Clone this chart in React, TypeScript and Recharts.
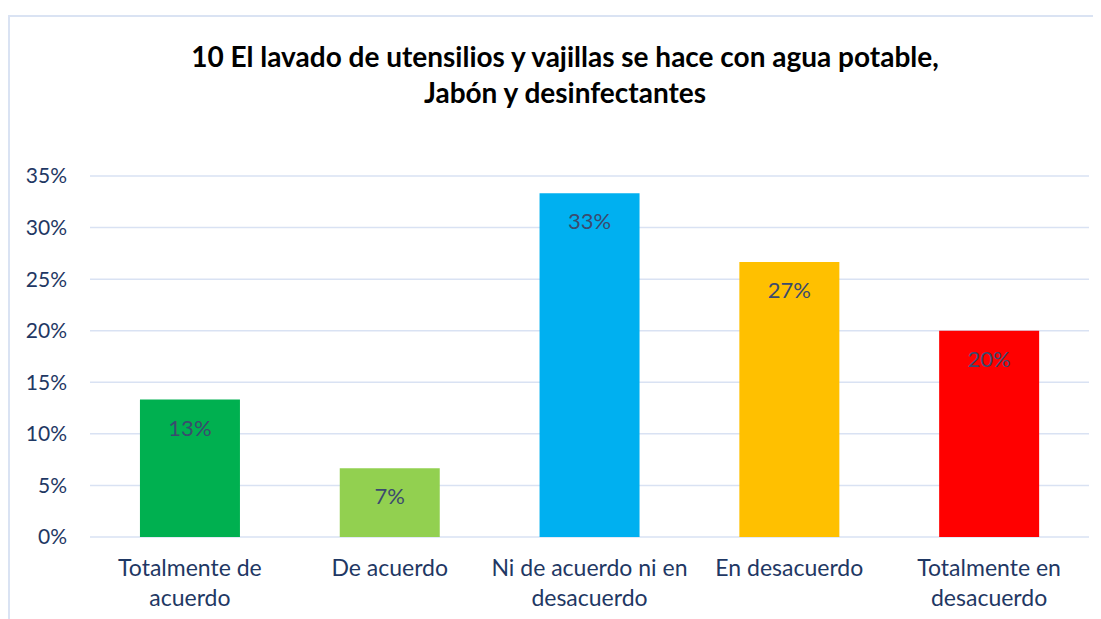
import React from 'react';
import { BarChart, Bar, XAxis, YAxis, CartesianGrid, LabelList, Cell } from 'recharts';

const categories = [
    'Totalmente de acuerdo',
    'De acuerdo',
    'Ni de acuerdo ni en desacuerdo',
    'En desacuerdo',
    'Totalmente en desacuerdo',
];
const categoryLines: string[][] = [
    ['Totalmente de', 'acuerdo'],
    ['De acuerdo'],
    ['Ni de acuerdo ni en', 'desacuerdo'],
    ['En desacuerdo'],
    ['Totalmente en', 'desacuerdo'],
];
const values = [13.33, 6.67, 33.33, 26.67, 20.0];
const barColors = ['#00b050', '#92d050', '#00b0f0', '#ffc000', '#ff0000'];
const yTicks = [0, 5, 10, 15, 20, 25, 30, 35];
const titleLines = [
    '10 El lavado de utensilios y vajillas se hace con agua potable,',
    'Jabón y desinfectantes',
];

const font = "Lato, 'Noto Sans', sans-serif";
const axisColor = '#1f3864';

const data = categories.map((c, i) => ({ name: c, lines: categoryLines[i], value: values[i] }));

const XTick = (props: any) => {
    const { x, y, payload } = props;
    const lines = categoryLines[payload.index] || [payload.value];
    return (
        <text x={x} y={y} textAnchor="middle" fill={axisColor} fontSize={23} fontFamily={font}>
            {lines.map((l, i) => (
                <tspan key={i} x={x} y={y + 31 + i * 30}>{l}</tspan>
            ))}
        </text>
    );
};

const BarLabel = (props: any) => {
    const { x, y, width, value } = props;
    return (
        <text x={x + width / 2} y={y + 36} textAnchor="middle" fill="#3b4a6e" fontSize={22} fontFamily={font}>
            {Math.round(value)}%
        </text>
    );
};

export default function App() {
    return (
        <div style={{ position: 'relative', width: 1093, height: 604, marginTop: 7, borderTop: '2px solid #dae3f3', borderLeft: '2px solid #dae3f3', background: '#fff', overflow: 'hidden' }}>
            <div style={{ position: 'absolute', left: 0, width: 1110, top: 21, textAlign: 'center', fontFamily: font, fontWeight: 'bold', fontSize: 28, lineHeight: '36px', color: '#000' }}>
                {titleLines.map((t, i) => <div key={i}>{t}</div>)}
            </div>
            <BarChart
                width={1091}
                height={602}
                data={data}
                margin={{ top: 159, right: 12, left: 0, bottom: 0 }}
                barCategoryGap="25%"
            >
                <CartesianGrid vertical={false} stroke="#d9e2f3" strokeWidth={1.5} />
                <YAxis
                    width={80}
                    domain={[0, 35]}
                    ticks={yTicks}
                    tickFormatter={(v) => `${v}%`}
                    axisLine={false}
                    tickLine={false}
                    tickSize={0}
                    tickMargin={23}
                    tick={{ fill: axisColor, fontSize: 21, fontFamily: font }}
                />
                <XAxis
                    dataKey="name"
                    height={82}
                    interval={0}
                    axisLine={false}
                    tickLine={false}
                    tick={<XTick />}
                />
                <Bar dataKey="value" isAnimationActive={false}>
                    {data.map((d, i) => <Cell key={i} fill={barColors[i]} />)}
                    <LabelList dataKey="value" content={<BarLabel />} />
                </Bar>
            </BarChart>
        </div>
    );
}
